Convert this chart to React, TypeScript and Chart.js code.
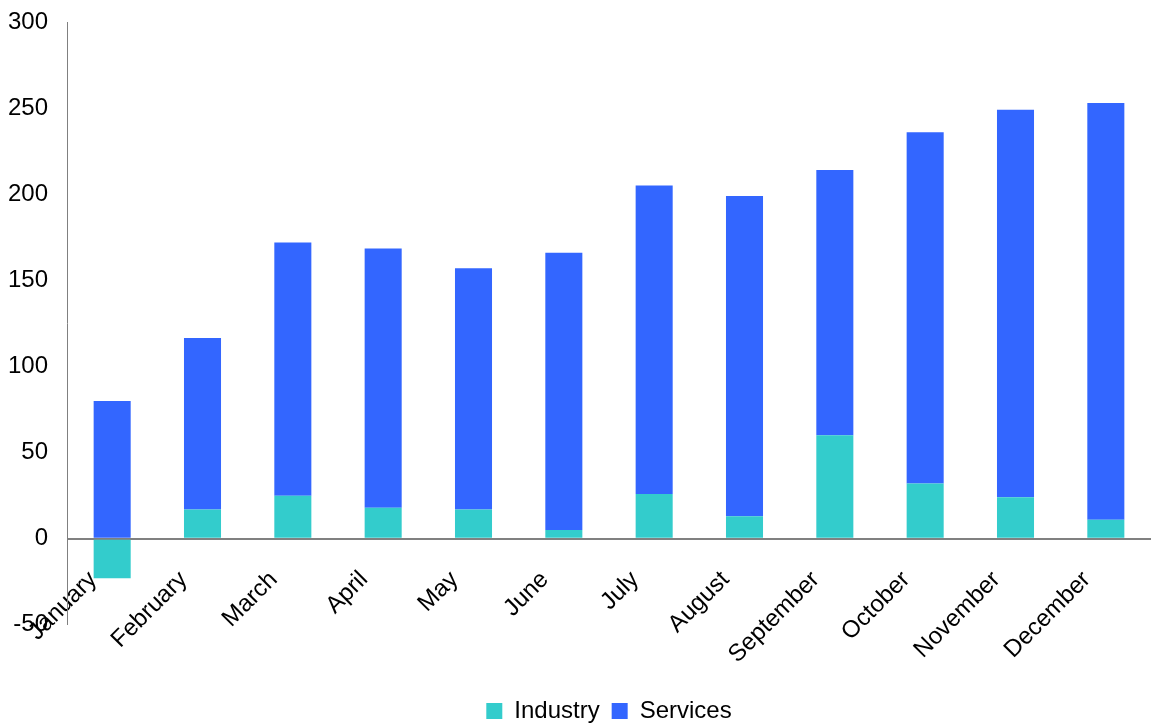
import React, { useEffect, useRef } from "react";
import { Chart, registerables } from "chart.js";

Chart.register(...registerables);

const categories = ["January", "February", "March", "April", "May", "June", "July", "August", "September", "October", "November", "December"];
const industry = [-23, 17, 25, 18, 17, 5, 26, 13, 60, 32, 24, 11];
const services = [80, 99.5, 147, 150.5, 140, 161, 179, 186, 154, 204, 225, 242];
const yTicks = [-50, 0, 50, 100, 150, 200, 250, 300];

const FONT = "'Liberation Sans', Arial, sans-serif";

export default function App() {
  const ref = useRef<HTMLCanvasElement | null>(null);
  useEffect(() => {
    if (!ref.current) return;
    const chart = new Chart(ref.current, {
      type: "bar",
      data: {
        labels: categories,
        datasets: [
          { label: "Industry", data: industry, backgroundColor: "#33CCCC", barPercentage: 0.41, categoryPercentage: 1 },
          { label: "Services", data: services, backgroundColor: "#3366FF", barPercentage: 0.41, categoryPercentage: 1 },
        ],
      },
      options: {
        animation: false,
        responsive: false,
        maintainAspectRatio: false,
        layout: { padding: { top: 0, right: 0, left: 0, bottom: -6 } },
        plugins: {
          tooltip: { enabled: false },
          legend: {
            position: "bottom",
            fullSize: false,
            title: { display: true, text: " ", font: { size: 1 }, padding: { top: 61, bottom: 0 } },
            labels: {
              color: "#000",
              boxWidth: 16,
              boxHeight: 16,
              padding: 12,
              font: { family: FONT, size: 24 },
            },
          },
        },
        scales: {
          x: {
            stacked: true,
            position: { y: 0 } as any,
            z: 1,
            grid: { display: false, drawTicks: false },
            border: { display: false },
            afterFit: (s: any) => {
              s.paddingLeft = 0;
              s.paddingRight = 0;
              s.paddingTop = 0;
              s.paddingBottom = 0;
            },
            ticks: { color: "#000", maxRotation: 45, minRotation: 45, padding: 27, labelOffset: -19, font: { family: FONT, size: 24 } },
          },
          y: {
            stacked: true,
            min: -50,
            max: 300,
            afterBuildTicks: (scale: any) => {
              scale.ticks = yTicks.map((v) => ({ value: v }));
            },
            afterFit: (s: any) => {
              s.width = 67;
              s.paddingTop = 22;
              s.paddingBottom = 10;
            },
            grid: {
              drawTicks: false,
              color: (ctx: any) => (ctx.tick && ctx.tick.value === 0 ? "#808080" : "rgba(0,0,0,0)"),
              lineWidth: (ctx: any) => (ctx.tick && ctx.tick.value === 0 ? 2 : 0),
            },
            border: { display: true, color: "#808080", width: 1 },
            ticks: { color: "#000", padding: 19, font: { family: FONT, size: 24 } },
          },
        },
      },
    });
    return () => chart.destroy();
  }, []);
  return (
    <div style={{ position: "fixed", left: 0, top: 0, width: 1151, height: 727, background: "#fff" }}>
      <canvas ref={ref} width={1151} height={727} />
    </div>
  );
}
